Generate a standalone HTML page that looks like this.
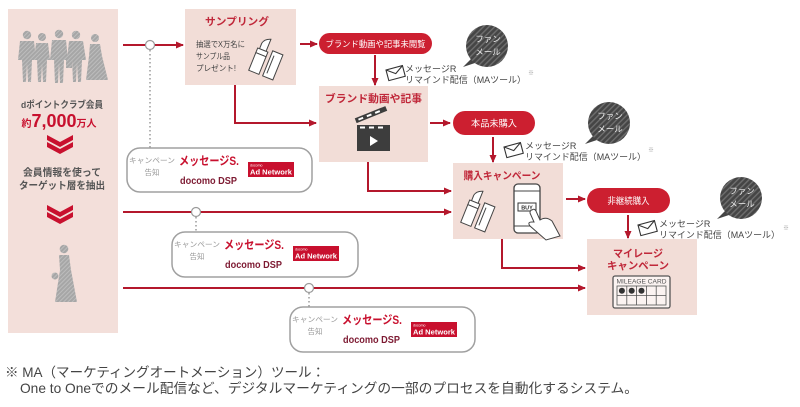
<!DOCTYPE html>
<html lang="ja">
<head>
<meta charset="utf-8">
<style>
  html,body{margin:0;padding:0;background:#fff;}
  body{width:800px;height:407px;overflow:hidden;}
  svg{display:block;}
  text{font-family:"Liberation Sans","Noto Sans CJK JP",sans-serif;}
</style>
</head>
<body>
<svg width="800" height="407" viewBox="0 0 800 407" xmlns="http://www.w3.org/2000/svg">
  <defs>
    <marker id="ah" markerUnits="userSpaceOnUse" markerWidth="8" markerHeight="7" refX="7" refY="3.5" orient="auto">
      <path d="M0,0 L8,3.5 L0,7 Z" fill="#b4182c"/>
    </marker>
    <pattern id="hatch" width="4" height="4" patternUnits="userSpaceOnUse" patternTransform="rotate(45)">
      <rect width="4" height="4" fill="#454545"/>
      <rect width="1.4" height="4" fill="#6e6e6e"/>
    </pattern>
    <pattern id="ghatch" width="3" height="3" patternUnits="userSpaceOnUse" patternTransform="rotate(45)">
      <rect width="3" height="3" fill="#a6a6a6"/>
      <rect width="1" height="3" fill="#bdbdbd"/>
    </pattern>
  </defs>

  <rect x="0" y="0" width="800" height="407" fill="#fff"/>

  <!-- Left column -->
  <rect x="8" y="9" width="110" height="324" fill="#f3dfda"/>
  <!-- group of people -->
  <g fill="url(#ghatch)">
    <circle cx="27" cy="35" r="4.2"/>
    <path d="M20,41 L34,41 L36,60 L32,60 L31,82 L28,82 L27,63 L26,82 L23,82 L22,60 L18,60 Z"/>
    <circle cx="42" cy="37" r="4"/>
    <path d="M36,43 L48,43 L50,60 L47,60 L46,82 L43,82 L42,64 L41,82 L38,82 L37,60 L34,60 Z"/>
    <circle cx="59" cy="34" r="4.2"/>
    <path d="M52,40 L66,40 L68,60 L64,60 L63,83 L60,83 L59,63 L58,83 L55,83 L54,60 L50,60 Z"/>
    <circle cx="76" cy="35" r="4.2"/>
    <path d="M69,41 L83,41 L86,60 L82,60 L81,82 L78,82 L77,63 L76,82 L73,82 L72,60 L67,60 Z"/>
    <rect x="66" y="58" width="6" height="10"/>
    <circle cx="95" cy="38" r="4"/>
    <path d="M90,44 L100,44 L102,56 L108,80 L86,80 L89,56 Z"/>
  </g>
  <text x="62" y="108" text-anchor="middle" font-size="9.5" font-weight="bold" fill="#555" textLength="82" lengthAdjust="spacingAndGlyphs">dポイントクラブ会員</text>
  <text x="59" y="127" text-anchor="middle" fill="#c8102e" font-weight="bold"><tspan font-size="10">約</tspan><tspan font-size="18">7,000</tspan><tspan font-size="10">万人</tspan></text>
  <!-- chevron 1 -->
  <g fill="#c8102e">
    <polygon points="47,135 60,142 73,135 73,140 60,147 47,140"/>
    <polygon points="47,142 60,149 73,142 73,147 60,154 47,147"/>
  </g>
  <text x="62" y="176" text-anchor="middle" font-size="10" font-weight="bold" fill="#555" textLength="78" lengthAdjust="spacingAndGlyphs">会員情報を使って</text>
  <text x="62" y="189" text-anchor="middle" font-size="10" font-weight="bold" fill="#555" textLength="86" lengthAdjust="spacingAndGlyphs">ターゲット層を抽出</text>
  <!-- chevron 2 -->
  <g fill="#c8102e">
    <polygon points="47,205 60,212 73,205 73,210 60,217 47,210"/>
    <polygon points="47,212 60,219 73,212 73,217 60,224 47,217"/>
  </g>
  <!-- single woman -->
  <g fill="url(#ghatch)">
    <circle cx="64" cy="249" r="4.3"/>
    <path d="M59,255 L69,255 L71,270 L77,302 L55,302 L60,270 Z"/>
    <circle cx="55" cy="276" r="3.5"/>
  </g>

  <!-- Connector lines -->
  <g stroke="#b4182c" stroke-width="2" fill="none">
    <line x1="123" y1="45" x2="183" y2="45" marker-end="url(#ah)"/>
    <line x1="300" y1="44" x2="317" y2="44" marker-end="url(#ah)"/>
    <line x1="375" y1="55" x2="375" y2="85" marker-end="url(#ah)"/>
    <polyline points="235,85 235,123 316,123" marker-end="url(#ah)"/>
    <line x1="430" y1="123" x2="450" y2="123" marker-end="url(#ah)"/>
    <line x1="493" y1="137" x2="493" y2="162" marker-end="url(#ah)"/>
    <polyline points="368,162 368,191 451,191" marker-end="url(#ah)"/>
    <line x1="123" y1="212" x2="451" y2="212" marker-end="url(#ah)"/>
    <line x1="566" y1="199" x2="585" y2="199" marker-end="url(#ah)"/>
    <line x1="628" y1="215" x2="628" y2="238" marker-end="url(#ah)"/>
    <polyline points="502,239 502,268 585,268" marker-end="url(#ah)"/>
    <line x1="123" y1="288" x2="585" y2="288" marker-end="url(#ah)"/>
  </g>

  <!-- dotted links -->
  <g stroke="#9a9a9a" stroke-width="1.5" stroke-dasharray="1.5 2.5" fill="none">
    <line x1="150" y1="50" x2="150" y2="148"/>
    <line x1="196" y1="217" x2="196" y2="232"/>
    <line x1="309" y1="293" x2="309" y2="307"/>
  </g>
  <g fill="#fff" stroke="#9a9a9a" stroke-width="1.2">
    <circle cx="150" cy="45" r="4.5"/>
    <circle cx="196" cy="212" r="4.5"/>
    <circle cx="309" cy="288" r="4.5"/>
  </g>

  <!-- Sampling box -->
  <rect x="185" y="9" width="111" height="76" fill="#f2ddd7"/>
  <text x="237" y="25" text-anchor="middle" font-size="10.5" font-weight="bold" fill="#c0283a" textLength="64" lengthAdjust="spacingAndGlyphs">サンプリング</text>
  <g font-size="8" fill="#444">
    <text x="196" y="47" textLength="49" lengthAdjust="spacingAndGlyphs">抽選でX万名に</text>
    <text x="196" y="59" textLength="34" lengthAdjust="spacingAndGlyphs">サンプル品</text>
    <text x="196" y="71" textLength="40" lengthAdjust="spacingAndGlyphs">プレゼント!</text>
  </g>
  <g transform="translate(262,40) rotate(22)" fill="#fff" stroke="#444" stroke-width="1">
    <path d="M1,9 L1,3 Q2,-2 8,-4 L8,9 Z"/>
    <rect x="-1" y="9" width="11" height="5"/>
    <rect x="-1" y="14" width="11" height="19"/>
    <rect x="14" y="6" width="11" height="27"/>
    <line x1="17" y1="10" x2="17" y2="29"/>
  </g>

  <!-- pill 1 -->
  <rect x="319" y="33" width="113" height="21" rx="10.5" fill="#cc1f30"/>
  <text x="375.5" y="47" text-anchor="middle" font-size="8.5" fill="#fff" textLength="100" lengthAdjust="spacingAndGlyphs">ブランド動画や記事未閲覧</text>

  <!-- MA note 1 -->
  <g transform="translate(386,70) rotate(-15)">
    <rect width="17" height="11" fill="#fff" stroke="#333" stroke-width="1.1"/>
    <path d="M0,0 L8.5,6 L17,0" fill="none" stroke="#333" stroke-width="1.1"/>
  </g>
  <text x="405" y="72" font-size="9" fill="#444">メッセージR</text>
  <text x="405" y="83" font-size="9" fill="#444" textLength="121" lengthAdjust="spacingAndGlyphs">リマインド配信（MAツール）</text>
  <text x="528" y="75" font-size="6" fill="#999">※</text>

  <!-- fan bubble 1 -->
  <path d="M472,58 L463,67 L478,62 Z" fill="#454545"/>
  <circle cx="487" cy="46" r="21" fill="url(#hatch)"/>
  <text x="488" y="42" text-anchor="middle" font-size="8.5" fill="#eee">ファン</text>
  <text x="488" y="55" text-anchor="middle" font-size="8.5" fill="#eee">メール</text>

  <!-- Brand video box -->
  <rect x="319" y="86" width="109" height="76" fill="#f2ddd7"/>
  <text x="373.5" y="102" text-anchor="middle" font-size="10.5" font-weight="bold" fill="#c0283a" textLength="97" lengthAdjust="spacingAndGlyphs">ブランド動画や記事</text>
  <g>
    <rect x="357" y="130" width="33" height="21" fill="#3d3d3d"/>
    <rect x="357" y="125" width="33" height="5" fill="#3d3d3d"/>
    <g fill="#fff">
      <rect x="360" y="126.5" width="5" height="2"/>
      <rect x="369" y="126.5" width="5" height="2"/>
      <rect x="378" y="126.5" width="5" height="2"/>
    </g>
    <g transform="rotate(-22 357 124)">
      <rect x="357" y="118" width="33" height="5" fill="#3d3d3d"/>
      <rect x="360" y="119.5" width="5" height="2" fill="#fff"/>
      <rect x="369" y="119.5" width="5" height="2" fill="#fff"/>
      <rect x="378" y="119.5" width="5" height="2" fill="#fff"/>
    </g>
    <path d="M370,136 L370,146 L378,141 Z" fill="#fff"/>
  </g>

  <!-- pill 2 -->
  <rect x="453" y="111" width="82" height="24" rx="12" fill="#cc1f30"/>
  <text x="494" y="126.5" text-anchor="middle" font-size="9" fill="#fff" textLength="46" lengthAdjust="spacingAndGlyphs">本品未購入</text>

  <!-- MA note 2 -->
  <g transform="translate(504,147) rotate(-15)">
    <rect width="17" height="11" fill="#fff" stroke="#333" stroke-width="1.1"/>
    <path d="M0,0 L8.5,6 L17,0" fill="none" stroke="#333" stroke-width="1.1"/>
  </g>
  <text x="525" y="149" font-size="9" fill="#444">メッセージR</text>
  <text x="525" y="160" font-size="9" fill="#444" textLength="121" lengthAdjust="spacingAndGlyphs">リマインド配信（MAツール）</text>
  <text x="648" y="152" font-size="6" fill="#999">※</text>

  <!-- fan bubble 2 -->
  <path d="M594,135 L585,144 L600,139 Z" fill="#454545"/>
  <circle cx="609" cy="123" r="21" fill="url(#hatch)"/>
  <text x="610" y="119" text-anchor="middle" font-size="8.5" fill="#eee">ファン</text>
  <text x="610" y="132" text-anchor="middle" font-size="8.5" fill="#eee">メール</text>

  <!-- Campaign box 1 -->
  <rect x="127" y="148" width="185" height="44" rx="13" fill="#fff" stroke="#a0a0a0" stroke-width="1.5"/>
  <text x="129" y="163" font-size="7.5" fill="#999" textLength="46" lengthAdjust="spacingAndGlyphs">キャンペーン</text>
  <text x="152" y="175" text-anchor="middle" font-size="7.5" fill="#999">告知</text>
  <text x="179" y="165" font-size="12" font-weight="bold" fill="#c8102e" textLength="60" lengthAdjust="spacingAndGlyphs">メッセージS.</text>
  <text x="180" y="184" font-size="10" font-weight="bold" fill="#7d1a32" textLength="57" lengthAdjust="spacingAndGlyphs">docomo DSP</text>
  <rect x="248" y="162" width="46" height="15" fill="#c8102e"/>
  <text x="250" y="166.5" font-size="3.5" fill="#fff">docomo</text>
  <text x="250" y="174.5" font-size="7.5" font-weight="bold" fill="#fff" textLength="42" lengthAdjust="spacingAndGlyphs">Ad Network</text>

  <!-- Purchase campaign box -->
  <rect x="453" y="163" width="110" height="76" fill="#f2ddd7"/>
  <text x="502" y="179" text-anchor="middle" font-size="10.5" font-weight="bold" fill="#c0283a" textLength="77" lengthAdjust="spacingAndGlyphs">購入キャンペーン</text>
  <g transform="translate(474,192) rotate(22)" fill="#fff" stroke="#444" stroke-width="1">
    <path d="M1,9 L1,3 Q2,-2 8,-4 L8,9 Z"/>
    <rect x="-1" y="9" width="11" height="5"/>
    <rect x="-1" y="14" width="11" height="19"/>
    <rect x="14" y="6" width="11" height="27"/>
    <line x1="17" y1="10" x2="17" y2="29"/>
  </g>
  <rect x="514" y="184" width="26" height="49" rx="4" fill="#fff" stroke="#444" stroke-width="1.3"/>
  <line x1="514" y1="191" x2="540" y2="191" stroke="#444" stroke-width="1"/>
  <line x1="514" y1="226" x2="540" y2="226" stroke="#444" stroke-width="1"/>
  <rect x="518" y="203" width="18" height="8" fill="#fff" stroke="#333" stroke-width="1"/>
  <text x="527" y="209.3" text-anchor="middle" font-size="5.5" font-weight="bold" fill="#333">BUY</text>
  <path d="M532,210 Q534,208 536,211 L540,220 Q546,216 552,221 L560,236 L546,240 L530,226 Q527,222 532,222 L534,222 L530,213 Q530,210 532,210 Z" fill="#fff" stroke="#444" stroke-width="1"/>

  <!-- pill 3 -->
  <rect x="587" y="188" width="83" height="25" rx="12.5" fill="#cc1f30"/>
  <text x="628.5" y="204" text-anchor="middle" font-size="9" fill="#fff" textLength="42" lengthAdjust="spacingAndGlyphs">非継続購入</text>

  <!-- MA note 3 -->
  <g transform="translate(638,225) rotate(-15)">
    <rect width="17" height="11" fill="#fff" stroke="#333" stroke-width="1.1"/>
    <path d="M0,0 L8.5,6 L17,0" fill="none" stroke="#333" stroke-width="1.1"/>
  </g>
  <text x="659" y="227" font-size="9" fill="#444">メッセージR</text>
  <text x="659" y="238" font-size="9" fill="#444" textLength="121" lengthAdjust="spacingAndGlyphs">リマインド配信（MAツール）</text>
  <text x="783" y="230" font-size="6" fill="#999">※</text>

  <!-- fan bubble 3 -->
  <path d="M726,210 L717,219 L732,214 Z" fill="#454545"/>
  <circle cx="741" cy="198" r="21" fill="url(#hatch)"/>
  <text x="742" y="194" text-anchor="middle" font-size="8.5" fill="#eee">ファン</text>
  <text x="742" y="207" text-anchor="middle" font-size="8.5" fill="#eee">メール</text>

  <!-- Mileage box -->
  <rect x="587" y="239" width="110" height="76" fill="#f2ddd7"/>
  <text x="638" y="257" text-anchor="middle" font-size="10.5" font-weight="bold" fill="#c0283a" textLength="50" lengthAdjust="spacingAndGlyphs">マイレージ</text>
  <text x="638" y="269" text-anchor="middle" font-size="10.5" font-weight="bold" fill="#c0283a" textLength="62" lengthAdjust="spacingAndGlyphs">キャンペーン</text>
  <rect x="613" y="276" width="57" height="32" rx="2" fill="#fbf3f1" stroke="#555" stroke-width="1.3"/>
  <text x="641.5" y="283.5" text-anchor="middle" font-size="6" fill="#555" textLength="50" lengthAdjust="spacingAndGlyphs">MILEAGE CARD</text>
  <g stroke="#555" stroke-width="0.8" fill="none">
    <rect x="617" y="286" width="49" height="19"/>
    <line x1="617" y1="295.5" x2="666" y2="295.5"/>
    <line x1="626.8" y1="286" x2="626.8" y2="305"/>
    <line x1="636.6" y1="286" x2="636.6" y2="305"/>
    <line x1="646.4" y1="286" x2="646.4" y2="305"/>
    <line x1="656.2" y1="286" x2="656.2" y2="305"/>
  </g>
  <g fill="#333">
    <circle cx="621.9" cy="290.8" r="3"/>
    <circle cx="631.7" cy="290.8" r="3"/>
    <circle cx="641.5" cy="290.8" r="3"/>
  </g>

  <!-- Campaign box 2 -->
  <rect x="172" y="232" width="186" height="45" rx="13" fill="#fff" stroke="#a0a0a0" stroke-width="1.5"/>
  <text x="174" y="247" font-size="7.5" fill="#999" textLength="46" lengthAdjust="spacingAndGlyphs">キャンペーン</text>
  <text x="197" y="259" text-anchor="middle" font-size="7.5" fill="#999">告知</text>
  <text x="224" y="249" font-size="12" font-weight="bold" fill="#c8102e" textLength="60" lengthAdjust="spacingAndGlyphs">メッセージS.</text>
  <text x="225" y="268" font-size="10" font-weight="bold" fill="#7d1a32" textLength="57" lengthAdjust="spacingAndGlyphs">docomo DSP</text>
  <rect x="293" y="246" width="46" height="15" fill="#c8102e"/>
  <text x="295" y="250.5" font-size="3.5" fill="#fff">docomo</text>
  <text x="295" y="258.5" font-size="7.5" font-weight="bold" fill="#fff" textLength="42" lengthAdjust="spacingAndGlyphs">Ad Network</text>

  <!-- Campaign box 3 -->
  <rect x="290" y="307" width="185" height="45" rx="13" fill="#fff" stroke="#a0a0a0" stroke-width="1.5"/>
  <text x="292" y="322" font-size="7.5" fill="#999" textLength="46" lengthAdjust="spacingAndGlyphs">キャンペーン</text>
  <text x="315" y="334" text-anchor="middle" font-size="7.5" fill="#999">告知</text>
  <text x="342" y="324" font-size="12" font-weight="bold" fill="#c8102e" textLength="60" lengthAdjust="spacingAndGlyphs">メッセージS.</text>
  <text x="343" y="343" font-size="10" font-weight="bold" fill="#7d1a32" textLength="57" lengthAdjust="spacingAndGlyphs">docomo DSP</text>
  <rect x="411" y="322" width="46" height="15" fill="#c8102e"/>
  <text x="413" y="326.5" font-size="3.5" fill="#fff">docomo</text>
  <text x="413" y="334.5" font-size="7.5" font-weight="bold" fill="#fff" textLength="42" lengthAdjust="spacingAndGlyphs">Ad Network</text>

  <!-- Footnote -->
  <text x="5" y="377" font-size="13.7" fill="#444" textLength="320" lengthAdjust="spacingAndGlyphs">※ MA（マーケティングオートメーション）ツール：</text>
  <text x="20" y="393" font-size="13.7" fill="#444" textLength="618" lengthAdjust="spacingAndGlyphs">One to Oneでのメール配信など、デジタルマーケティングの一部のプロセスを自動化するシステム。</text>
</svg>
</body>
</html>
